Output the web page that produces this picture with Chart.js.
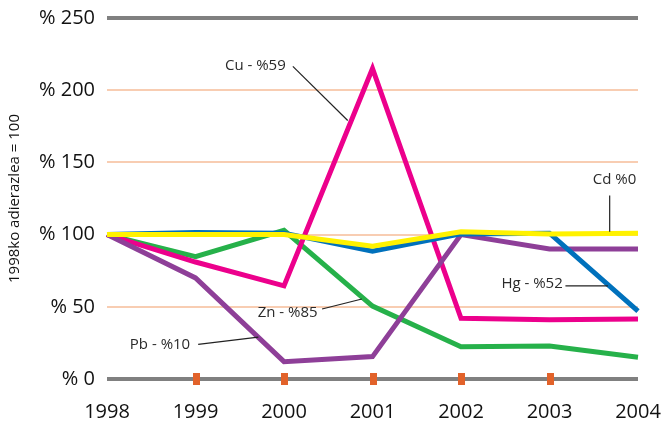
<!DOCTYPE html>
<html>
<head>
<meta charset="utf-8">
<script src="https://cdn.jsdelivr.net/npm/chart.js@4.4.1/dist/chart.umd.min.js"></script>
<style>
  html, body { margin: 0; padding: 0; background: #fff; }
  #wrap { width: 662px; height: 421px; }
</style>
</head>
<body>
<div id="wrap"><canvas id="chart"></canvas></div>
<script>
// years on the x axis
const years = ['1998', '1999', '2000', '2001', '2002', '2003', '2004']
const yTicks = [0, 50, 100, 150, 200, 250]

// index values, 1998 = 100
const cu = [100, 81, 64.5, 215, 42, 41, 41.5]
const zn = [100, 84.7, 103, 50.5, 22.4, 22.8, 15]
const pb = [100, 70, 12, 15.5, 100, 90, 90]
const hg = [100, 101.5, 101, 88.5, 100.5, 101, 47]
const cd = [100, 100, 100, 92, 102, 100.4, 101]

// callout labels: text, text anchor (x index, y value), leader line from / to
const callouts = [
  { text: 'Cu - %59', at: [2.02, 217], from: [2.10, 216.5], to: [2.72, 179] },
  { text: 'Cd %0', at: [5.98, 138], from: [5.68, 127], to: [5.68, 102] },
  { text: 'Hg - %52', at: [5.15, 66], from: [5.18, 64.5], to: [5.66, 64.5] },
  { text: 'Zn - %85', at: [2.38, 46], from: [2.43, 48.5], to: [2.88, 55.4] },
  { text: 'Pb - %10', at: [0.94, 23.5], from: [1.03, 24], to: [1.71, 29] },
]

const font = '"Open Sans", "DejaVu Sans", sans-serif'

// little orange marks on the zero line for the inner years
const tickMarks = {
  id: 'tickMarks',
  afterDatasetsDraw(chart) {
    const { ctx, scales } = chart
    const y0 = scales.y.getPixelForValue(0)
    ctx.save()
    ctx.fillStyle = '#E2622A'
    for (let i = 1; i < years.length - 1; i++) {
      const x = scales.x.getPixelForValue(i)
      ctx.fillRect(Math.round(x) - 3, Math.round(y0) - 6, 7, 12)
    }
    ctx.restore()
  }
}

const calloutPlugin = {
  id: 'callouts',
  afterDatasetsDraw(chart) {
    const { ctx, scales } = chart
    const px = p => [scales.x.getPixelForValue(p[0]), scales.y.getPixelForValue(p[1])]
    ctx.save()
    ctx.strokeStyle = '#222'
    ctx.lineWidth = 1.2
    ctx.fillStyle = '#2a2a2a'
    ctx.font = '15px ' + font
    ctx.textAlign = 'right'
    ctx.textBaseline = 'middle'
    callouts.forEach(c => {
      const a = px(c.from), b = px(c.to), t = px(c.at)
      ctx.beginPath()
      ctx.moveTo(a[0], a[1])
      ctx.lineTo(b[0], b[1])
      ctx.stroke()
      ctx.fillText(c.text, t[0], t[1])
    })
    ctx.restore()
  }
}

const line = (label, data, color, order) => ({
  label, data, order,
  borderColor: color,
  borderWidth: 5,
  pointRadius: 0,
  tension: 0,
  fill: false,
  borderJoinStyle: 'miter',
})

new Chart(document.getElementById('chart'), {
  type: 'line',
  data: {
    labels: years,
    datasets: [
      line('Cd', cd, '#FFF200', 0),
      line('Hg', hg, '#0071BC', 1),
      line('Pb', pb, '#8E3F98', 2),
      line('Cu', cu, '#EC008C', 3),
      line('Zn', zn, '#26B14A', 4),
    ]
  },
  options: {
    responsive: true,
    maintainAspectRatio: false,
    animation: false,
    layout: { padding: { top: 18, right: 0, left: 6, bottom: 0 } },
    plugins: {
      legend: { display: false },
      tooltip: { enabled: false },
    },
    scales: {
      x: {
        offset: false,
        grid: { display: false },
        border: { display: false },
        ticks: { color: '#111', font: { family: font, size: 20 }, padding: 13, maxRotation: 0 },
        afterFit: scale => {
          scale.height = 42
          scale.paddingLeft = 0
          scale.paddingRight = 24
        },
      },
      y: {
        min: 0,
        max: 250,
        afterBuildTicks: scale => { scale.ticks = yTicks.map(v => ({ value: v })) },
        border: { display: false },
        grid: {
          drawTicks: false,
          color: c => (c.tick.value === 0 || c.tick.value === 250) ? '#808080' : '#F8CDB2',
          lineWidth: c => (c.tick.value === 0 || c.tick.value === 250) ? 4 : 2,
        },
        ticks: {
          color: '#111',
          font: { family: font, size: 20 },
          padding: 12,
          callback: v => '% ' + v,
        },
        title: {
          display: true,
          text: '1998ko adierazlea = 100',
          color: '#111',
          font: { family: font, size: 15 },
          padding: { top: 0, bottom: 4 },
        },
        afterFit: scale => {
          scale.width = 101
          scale.paddingTop = 0
          scale.paddingBottom = 0
        },
      }
    }
  },
  plugins: [tickMarks, calloutPlugin]
})
</script>
</body>
</html>
